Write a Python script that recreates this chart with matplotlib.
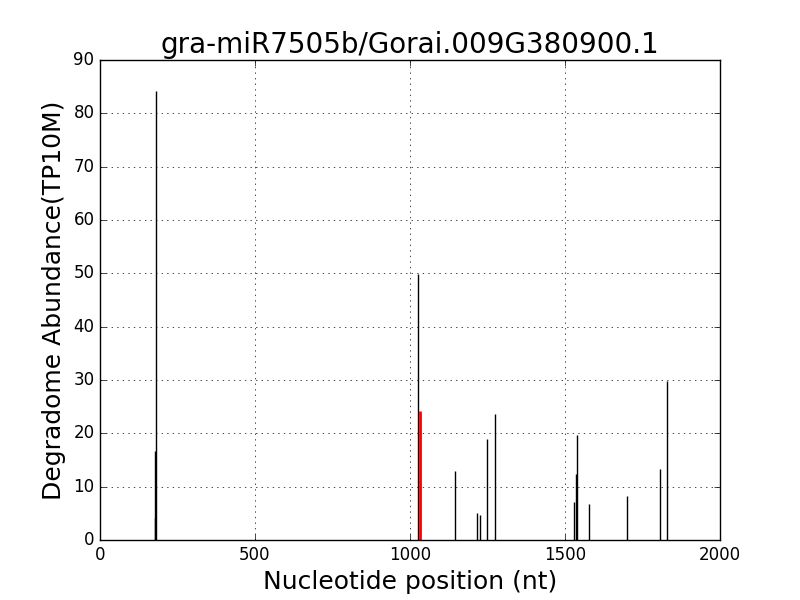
import matplotlib
matplotlib.use('Agg')
import matplotlib.pyplot as plt

# Posiciones y abundancias de degradoma
pos = [176, 179, 181, 1027, 1146, 1217, 1227, 1249, 1273, 1530, 1537, 1539, 1576, 1701, 1808, 1830]
abund = [4.2, 16.7, 84.1, 49.8, 13.0, 5.1, 4.75, 18.9, 23.6, 7.2, 12.4, 19.7, 6.7, 8.2, 13.4, 29.9]

# Sitio de corte del miRNA
target_pos = [1032]
target_abund = [24.1]

plt.style.use('classic')
fig = plt.figure(figsize=(8, 6), dpi=100)
ax = fig.add_subplot(111)
ax.vlines(pos, 0, abund, color='black', linewidth=1)
ax.vlines(target_pos, 0, target_abund, color='red', linewidth=2)

ax.set_xlim(0, 2000)
ax.set_ylim(0, 90)
ax.set_title('gra-miR7505b/Gorai.009G380900.1', fontsize=20)
ax.set_xlabel('Nucleotide position (nt)', fontsize=18)
ax.set_ylabel('Degradome Abundance(TP10M)', fontsize=18)
ax.grid(True)
fig.savefig('out.png', dpi=100)
